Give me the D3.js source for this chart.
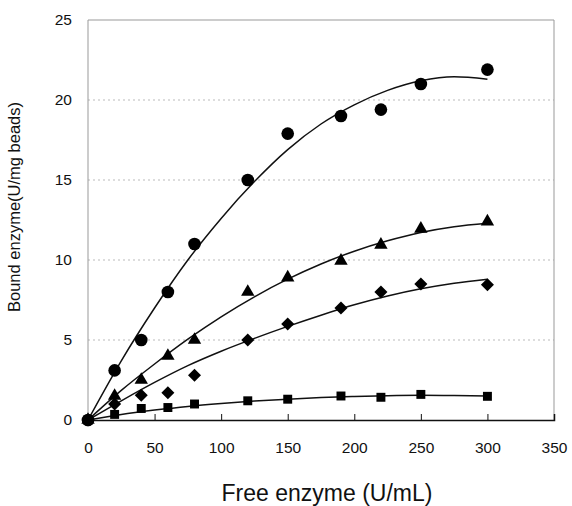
<!DOCTYPE html>
<html>
<head>
<meta charset="utf-8">
<script src="https://cdn.jsdelivr.net/npm/d3@7"></script>
<style>
  body { margin: 0; background: #fff; }
  text { font-family: Arial, "Liberation Sans", sans-serif; fill: #111; }
</style>
</head>
<body>
<div id="chart"></div>
<script>
// measured points
var xValues = [0, 20, 40, 60, 80, 120, 150, 190, 220, 250, 300];
var circleValues = [0, 3.1, 5.0, 8.0, 11.0, 15.0, 17.9, 19.0, 19.4, 21.0, 21.9];
var triangleValues = [0, 1.5, 2.5, 4.0, 5.0, 8.0, 8.9, 9.95, 10.95, 11.95, 12.4];
var diamondValues = [0, 1.0, 1.55, 1.7, 2.8, 5.0, 6.0, 7.0, 8.0, 8.5, 8.45];
var squareValues = [0, 0.35, 0.72, 0.78, 1.0, 1.2, 1.3, 1.5, 1.42, 1.6, 1.48];

// trend lines
var trendX = [0, 25, 50, 75, 100, 125, 150, 175, 200, 225, 250, 275, 300];
var circleTrend = [0, 3.7, 7.0, 10.0, 12.6, 14.9, 16.9, 18.5, 19.7, 20.6, 21.2, 21.45, 21.3];
var triangleTrend = [0, 1.85, 3.5, 5.05, 6.45, 7.7, 8.8, 9.75, 10.55, 11.2, 11.72, 12.08, 12.3];
var diamondTrend = [0, 1.2, 2.35, 3.4, 4.3, 5.1, 5.85, 6.55, 7.2, 7.75, 8.2, 8.55, 8.8];
var squareTrend = [0, 0.35, 0.62, 0.85, 1.03, 1.18, 1.3, 1.4, 1.47, 1.52, 1.54, 1.53, 1.5];

var xTicks = [0, 50, 100, 150, 200, 250, 300, 350];
var yTicks = [0, 5, 10, 15, 20, 25];

var svgWidth = 572;
var svgHeight = 506;

var margin = {
  top: 20,
  bottom: 86,
  right: 18,
  left: 88
};

var width = svgWidth - margin.left - margin.right;
var height = svgHeight - margin.top - margin.bottom;

var svg = d3.select("#chart")
  .append("svg")
  .attr("width", svgWidth)
  .attr("height", svgHeight);

var chartGroup = svg.append("g")
  .attr("transform", `translate(${margin.left}, ${margin.top})`);

var xScale = d3.scaleLinear().domain([0, 350]).range([0, width]);
var yScale = d3.scaleLinear().domain([0, 25]).range([height, 0]);

// grid lines
chartGroup.selectAll(".grid")
  .data(yTicks.filter(d => d > 0 && d < 25))
  .enter()
  .append("line")
  .attr("x1", 0)
  .attr("x2", width)
  .attr("y1", d => yScale(d))
  .attr("y2", d => yScale(d))
  .attr("stroke", "#bbb")
  .attr("stroke-width", 1)
  .attr("stroke-dasharray", "2,3");

// frame (top, right, left)
chartGroup.append("path")
  .attr("d", `M0,${height}V0H${width}V${height}`)
  .attr("fill", "none")
  .attr("stroke", "#999")
  .attr("stroke-width", 1);

// bottom axis
var xAxis = d3.axisBottom(xScale)
  .tickValues(xTicks)
  .tickSize(-6)
  .tickPadding(22);

var xg = chartGroup.append("g")
  .attr("transform", `translate(0, ${height})`)
  .call(xAxis);
xg.select(".domain").attr("stroke", "#111").attr("stroke-width", 1.5);
xg.selectAll(".tick line").attr("stroke", "#111");
xg.selectAll(".tick text")
  .style("font-size", "15.5px")
  .attr("fill", "#111");

// left axis labels
var yAxis = d3.axisLeft(yScale)
  .tickValues(yTicks)
  .tickSize(0)
  .tickPadding(16);

var yg = chartGroup.append("g").call(yAxis);
yg.select(".domain").remove();
yg.selectAll(".tick text")
  .style("font-size", "15.5px")
  .attr("fill", "#111");

// trend lines
var line = d3.line()
  .x(d => xScale(d[0]))
  .y(d => yScale(d[1]))
  .curve(d3.curveMonotoneX);

[circleTrend, triangleTrend, diamondTrend, squareTrend].forEach(function(series) {
  chartGroup.append("path")
    .datum(trendX.map((x, i) => [x, series[i]]))
    .attr("d", line)
    .attr("fill", "none")
    .attr("stroke", "#111")
    .attr("stroke-width", 1.5);
});

// square diamond (rotated square), wider than d3's own diamond
var squareDiamond = {
  draw: function(context, size) {
    var r = Math.sqrt(size / 2);
    context.moveTo(0, -r);
    context.lineTo(r, 0);
    context.lineTo(0, r);
    context.lineTo(-r, 0);
    context.closePath();
  }
};

// markers
function drawMarkers(values, symbolType, size) {
  chartGroup.selectAll(null)
    .data(xValues.map((x, i) => [x, values[i]]))
    .enter()
    .append("path")
    .attr("d", d3.symbol().type(symbolType).size(size))
    .attr("transform", d => `translate(${xScale(d[0])}, ${yScale(d[1])})`)
    .attr("fill", "#000");
}

drawMarkers(squareValues, d3.symbolSquare, 80);
drawMarkers(diamondValues, squareDiamond, 85);
drawMarkers(triangleValues, d3.symbolTriangle, 78);
drawMarkers(circleValues, d3.symbolCircle, 125);

// axis titles
svg.append("text")
  .attr("transform", "rotate(-90)")
  .attr("x", -207)
  .attr("y", 20)
  .attr("text-anchor", "middle")
  .style("font-size", "16.5px")
  .text("Bound enzyme(U/mg beads)");

svg.append("text")
  .attr("x", 327)
  .attr("y", 501)
  .attr("text-anchor", "middle")
  .style("font-size", "23px")
  .text("Free enzyme (U/mL)");
</script>
</body>
</html>
